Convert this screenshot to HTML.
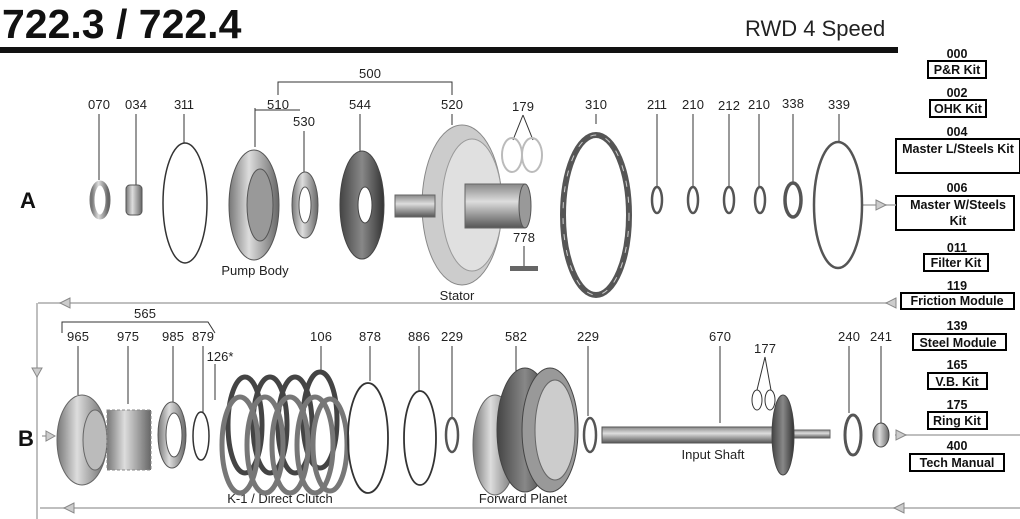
<!DOCTYPE html>
<html><head><meta charset="utf-8"><style>
html,body{margin:0;padding:0;background:#fff;}
svg{display:block;font-family:"Liberation Sans",sans-serif;}
.n{font-size:13px;fill:#222;text-anchor:middle;}
.k{font-size:12.5px;font-weight:bold;fill:#111;text-anchor:middle;}
.l{stroke:#333;stroke-width:1;fill:none;}
.g{stroke:#aaa;stroke-width:1.5;fill:none;}
.t{fill:#ccc;stroke:#888;stroke-width:1;}
.b{fill:#fff;stroke:#000;stroke-width:2;}
</style></head><body>
<svg width="1020" height="519" viewBox="0 0 1020 519">
<defs>
<linearGradient id="m" x1="0" x2="1"><stop offset="0" stop-color="#777"/><stop offset=".4" stop-color="#ddd"/><stop offset="1" stop-color="#666"/></linearGradient>
<linearGradient id="d" x1="0" x2="1"><stop offset="0" stop-color="#444"/><stop offset=".5" stop-color="#888"/><stop offset="1" stop-color="#333"/></linearGradient>
<linearGradient id="s" x1="0" y1="0" x2="0" y2="1"><stop offset="0" stop-color="#888"/><stop offset=".4" stop-color="#ddd"/><stop offset="1" stop-color="#555"/></linearGradient>
</defs>
<text x="2" y="38" font-size="41" font-weight="bold" fill="#111">722.3 / 722.4</text>
<rect x="0" y="47" width="898" height="6" fill="#111"/>
<text x="745" y="36" font-size="22" fill="#222">RWD 4 Speed</text>

<g>
<text class="k" x="957" y="58">000</text><rect class="b" x="928" y="61" width="58" height="17"/><text class="k" x="957" y="74">P&amp;R Kit</text>
<text class="k" x="957" y="97">002</text><rect class="b" x="930" y="100" width="56" height="17"/><text class="k" x="958" y="113">OHK Kit</text>
<text class="k" x="957" y="136">004</text><rect class="b" x="896" y="139" width="124" height="34"/><text class="k" x="958" y="153">Master L/Steels Kit</text>
<text class="k" x="957" y="192">006</text><rect class="b" x="896" y="196" width="118" height="34"/><text class="k" x="958" y="209">Master W/Steels</text><text class="k" x="958" y="225">Kit</text>
<text class="k" x="957" y="252">011</text><rect class="b" x="924" y="254" width="64" height="17"/><text class="k" x="956" y="267">Filter Kit</text>
<text class="k" x="957" y="290">119</text><rect class="b" x="901" y="293" width="113" height="16"/><text class="k" x="957" y="305">Friction Module</text>
<text class="k" x="957" y="330">139</text><rect class="b" x="913" y="334" width="93" height="16"/><text class="k" x="958" y="347">Steel Module</text>
<text class="k" x="957" y="369">165</text><rect class="b" x="928" y="373" width="59" height="16"/><text class="k" x="957" y="386">V.B. Kit</text>
<text class="k" x="957" y="409">175</text><rect class="b" x="928" y="412" width="59" height="17"/><text class="k" x="957" y="425">Ring Kit</text>
<text class="k" x="957" y="450">400</text><rect class="b" x="910" y="454" width="94" height="17"/><text class="k" x="957" y="467">Tech Manual</text>
</g>

<line class="g" x1="862" y1="205" x2="896" y2="205"/><path d="M876 200 L886 205 L876 210Z" class="t"/>
<line class="g" x1="38" y1="303" x2="896" y2="303"/><path d="M70 298 L60 303 L70 308Z" class="t"/><path d="M896 298 L886 303 L896 308Z" class="t"/>
<line class="g" x1="37" y1="303" x2="37" y2="519"/><path d="M32 368 L42 368 L37 377Z" class="t"/>
<line class="g" x1="895" y1="435" x2="1020" y2="435"/><path d="M896 430 L906 435 L896 440Z" class="t"/>
<line class="g" x1="40" y1="508" x2="1020" y2="508"/><path d="M74 503 L64 508 L74 513Z" class="t"/><path d="M904 503 L894 508 L904 513Z" class="t"/>
<text x="20" y="208" font-size="22" font-weight="bold" fill="#111">A</text>
<text x="18" y="446" font-size="22" font-weight="bold" fill="#111">B</text>
<line class="g" x1="42" y1="436" x2="52" y2="436"/><path d="M46 431 L55 436 L46 441Z" class="t"/>

<g class="n" textLength="">
<text x="99" y="109" textLength="22">070</text><text x="136" y="109" textLength="22">034</text><text x="184" y="109" textLength="20">311</text>
<text x="278" y="109" textLength="22">510</text><text x="304" y="126" textLength="22">530</text><text x="360" y="109" textLength="22">544</text>
<text x="452" y="109" textLength="22">520</text><text x="370" y="78" textLength="22">500</text>
<text x="523" y="111" textLength="22">179</text><text x="596" y="109" textLength="22">310</text><text x="657" y="109" textLength="20">211</text>
<text x="693" y="109" textLength="22">210</text><text x="729" y="110" textLength="22">212</text><text x="759" y="109" textLength="22">210</text>
<text x="793" y="108" textLength="22">338</text><text x="839" y="109" textLength="22">339</text><text x="524" y="242" textLength="22">778</text>
<text x="255" y="275">Pump Body</text><text x="457" y="300">Stator</text>
</g>
<path class="l" d="M278 95 V82 H452 V95 M255 108 V147 M255 110 H300 M99 114 V180 M136 114 V186 M184 114 V143 M304 131 V172 M360 114 V152 M452 114 V125 M523 115 L513 140 M523 115 L533 140 M596 114 V124 M657 114 V188 M693 114 V187 M729 114 V187 M759 114 V188 M793 114 V184 M839 114 V141 M524 246 V268"/>

<ellipse cx="100" cy="200" rx="8" ry="17" fill="none" stroke="url(#m)" stroke-width="5"/>
<rect x="126" y="185" width="16" height="30" rx="4" fill="url(#m)" stroke="#555"/>
<ellipse cx="185" cy="203" rx="22" ry="60" fill="none" stroke="#333" stroke-width="1.5"/>
<ellipse cx="254" cy="205" rx="25" ry="55" fill="url(#m)" stroke="#555"/>
<ellipse cx="260" cy="205" rx="13" ry="36" fill="#999" stroke="#555"/>
<ellipse cx="305" cy="205" rx="13" ry="33" fill="url(#m)" stroke="#555"/>
<ellipse cx="305" cy="205" rx="6" ry="18" fill="#fff" stroke="#555"/>
<ellipse cx="362" cy="205" rx="22" ry="54" fill="url(#d)" stroke="#444"/>
<ellipse cx="365" cy="205" rx="7" ry="18" fill="#fff" stroke="#444"/>
<ellipse cx="462" cy="205" rx="40" ry="80" fill="#ccc" stroke="#888"/>
<ellipse cx="472" cy="205" rx="30" ry="66" fill="#e0e0e0" stroke="#999"/>
<rect x="395" y="195" width="40" height="22" fill="url(#s)" stroke="#666"/>
<rect x="465" y="184" width="60" height="44" fill="url(#s)" stroke="#666"/>
<ellipse cx="525" cy="206" rx="6" ry="22" fill="#999" stroke="#555"/>
<ellipse cx="512" cy="155" rx="10" ry="17" fill="none" stroke="#bbb" stroke-width="2"/>
<ellipse cx="532" cy="155" rx="10" ry="17" fill="none" stroke="#bbb" stroke-width="2"/>
<rect x="510" y="266" width="28" height="5" fill="#666"/>
<ellipse cx="596" cy="215" rx="33" ry="80" fill="none" stroke="#555" stroke-width="6"/>
<ellipse cx="596" cy="215" rx="33" ry="80" fill="none" stroke="#ccc" stroke-width="1" stroke-dasharray="6 10"/>
<ellipse cx="657" cy="200" rx="5" ry="13" fill="none" stroke="#555" stroke-width="2.5"/>
<ellipse cx="693" cy="200" rx="5" ry="13" fill="none" stroke="#555" stroke-width="2.5"/>
<ellipse cx="729" cy="200" rx="5" ry="13" fill="none" stroke="#555" stroke-width="2.5"/>
<ellipse cx="760" cy="200" rx="5" ry="13" fill="none" stroke="#555" stroke-width="2.5"/>
<ellipse cx="793" cy="200" rx="8" ry="17" fill="none" stroke="#555" stroke-width="3.5"/>
<ellipse cx="838" cy="205" rx="24" ry="63" fill="none" stroke="#555" stroke-width="2.5"/>

<g class="n">
<text x="145" y="318" textLength="22">565</text>
<text x="78" y="341" textLength="22">965</text><text x="128" y="341" textLength="22">975</text><text x="173" y="341" textLength="22">985</text><text x="203" y="341" textLength="22">879</text>
<text x="220" y="361">126*</text><text x="321" y="341" textLength="22">106</text><text x="370" y="341" textLength="22">878</text><text x="419" y="341" textLength="22">886</text>
<text x="452" y="341" textLength="22">229</text><text x="516" y="341" textLength="22">582</text><text x="588" y="341" textLength="22">229</text><text x="720" y="341" textLength="22">670</text>
<text x="765" y="353" textLength="22">177</text><text x="849" y="341" textLength="22">240</text><text x="881" y="341" textLength="22">241</text>
<text x="280" y="503">K-1 / Direct Clutch</text><text x="523" y="503">Forward Planet</text><text x="713" y="459">Input Shaft</text>
</g>
<path class="l" d="M62 333 V322 H208 L215 333 M78 346 V395 M128 346 V404 M173 346 V410 M203 346 V412 M215 364 V400 M321 346 V371 M370 346 V381 M419 346 V392 M452 346 V417 M516 346 V383 M588 346 V416 M720 346 V423 M765 357 L757 390 M765 357 L771 390 M849 346 V413 M881 346 V425"/>

<ellipse cx="82" cy="440" rx="25" ry="45" fill="url(#m)" stroke="#666"/>
<ellipse cx="95" cy="440" rx="12" ry="30" fill="#bbb" stroke="#666"/>
<rect x="107" y="410" width="44" height="60" fill="url(#m)" stroke="#888" stroke-dasharray="3 2"/>
<ellipse cx="172" cy="435" rx="14" ry="33" fill="url(#m)" stroke="#555"/>
<ellipse cx="174" cy="435" rx="8" ry="22" fill="#fff" stroke="#555"/>
<ellipse cx="201" cy="436" rx="8" ry="24" fill="none" stroke="#333" stroke-width="1.5"/>
<g fill="none" stroke-width="5">
<ellipse cx="245" cy="425" rx="17" ry="48" stroke="#444"/><ellipse cx="270" cy="425" rx="17" ry="48" stroke="#444"/>
<ellipse cx="295" cy="425" rx="17" ry="48" stroke="#444"/><ellipse cx="320" cy="420" rx="17" ry="48" stroke="#444"/>
<ellipse cx="240" cy="445" rx="18" ry="48" stroke="#777"/><ellipse cx="265" cy="445" rx="18" ry="48" stroke="#777"/>
<ellipse cx="290" cy="445" rx="18" ry="48" stroke="#777"/><ellipse cx="315" cy="445" rx="18" ry="48" stroke="#777"/>
<ellipse cx="330" cy="445" rx="17" ry="46" stroke="#777"/>
</g>
<ellipse cx="368" cy="438" rx="20" ry="55" fill="none" stroke="#333" stroke-width="1.8"/>
<ellipse cx="420" cy="438" rx="16" ry="47" fill="none" stroke="#333" stroke-width="1.8"/>
<ellipse cx="452" cy="435" rx="6" ry="17" fill="none" stroke="#555" stroke-width="2.5"/>
<ellipse cx="495" cy="445" rx="22" ry="50" fill="url(#m)" stroke="#666"/>
<ellipse cx="525" cy="430" rx="28" ry="62" fill="url(#d)" stroke="#444"/>
<ellipse cx="550" cy="430" rx="28" ry="62" fill="#999" stroke="#444"/>
<ellipse cx="555" cy="430" rx="20" ry="50" fill="#ccc" stroke="#666"/>
<ellipse cx="590" cy="435" rx="6" ry="17" fill="none" stroke="#555" stroke-width="2.5"/>
<rect x="602" y="427" width="178" height="16" fill="url(#s)" stroke="#555"/>
<rect x="780" y="430" width="50" height="8" fill="url(#s)" stroke="#666"/>
<ellipse cx="783" cy="435" rx="11" ry="40" fill="url(#d)" stroke="#444"/>
<ellipse cx="757" cy="400" rx="5" ry="10" fill="none" stroke="#333"/>
<ellipse cx="770" cy="400" rx="5" ry="10" fill="none" stroke="#333"/>
<ellipse cx="853" cy="435" rx="8" ry="20" fill="none" stroke="#555" stroke-width="3"/>
<ellipse cx="881" cy="435" rx="8" ry="12" fill="url(#m)" stroke="#444"/>
</svg>
</body></html>
